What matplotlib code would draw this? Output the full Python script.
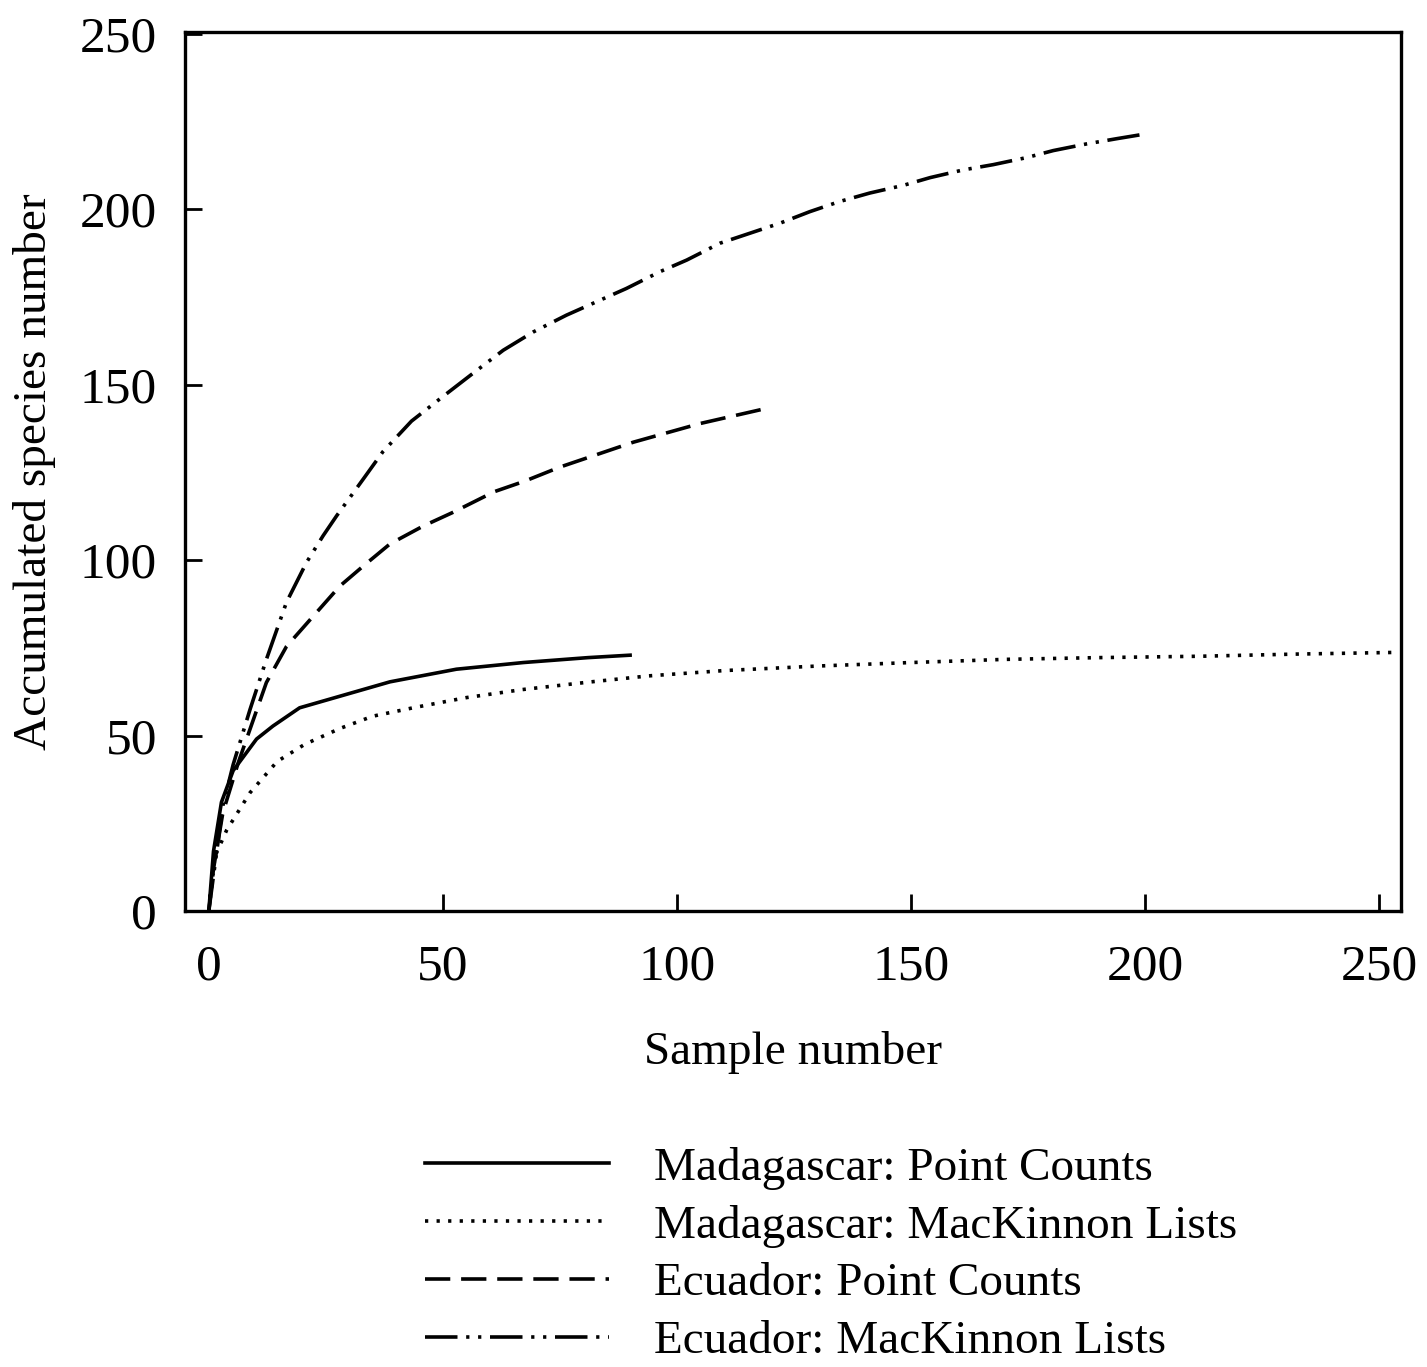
import matplotlib
matplotlib.use("Agg")
import matplotlib.pyplot as plt

# species accumulation curves
mad_pc_x = [0, 1, 2.7, 5.2, 10.2, 13.7, 19.4, 28, 38.7, 52.9, 67.2, 81, 90]
mad_pc_y = [0, 17, 31, 40, 49, 52.7, 57.9, 61.2, 65.3, 68.9, 70.8, 72.2, 72.9]

mad_mk_x = [0, 1.3, 3.8, 8.8, 14.6, 20.5, 28, 35, 44, 55, 67, 81, 94, 110, 130,
            150, 170, 190, 212, 232, 254]
mad_mk_y = [0, 15.5, 23, 33.7, 42.6, 47.5, 52, 55.5, 58, 60.8, 63.1, 65.2, 67, 68.5,
            69.8, 70.8, 71.7, 72.2, 72.6, 73.2, 73.7]

ec_pc_x = [0, 1, 3, 6.3, 12.3, 16.6, 22.3, 28, 33, 38.7, 45.8, 52, 61, 67.5, 75,
           90.7, 104.9, 120]
ec_pc_y = [0, 12, 28, 42.3, 65.1, 75.4, 84, 92.6, 98.3, 104.6, 109.7, 113.5, 119.5,
           122.5, 126.5, 133.6, 138.9, 143.5]

ec_mk_x = [0, 3, 5.2, 8.8, 12.3, 16.6, 20.9, 24.4, 27.3, 33, 37.2, 43.3, 50, 56.8,
           62.9, 69.3, 76.4, 82.8, 89.2, 96.4, 102.1, 109.2, 122, 128.4, 134.8, 141.2,
           148.4, 154.1, 161.2, 167.6, 174.7, 180.4, 187.5, 194, 199]
ec_mk_y = [0, 30, 41.7, 57.4, 71.7, 88, 99.4, 106.9, 112.6, 123.1, 130.9, 139.6, 146.6,
           153.6, 159.8, 165, 169.8, 173.6, 177.4, 182.2, 185.5, 190.3, 196, 199.3,
           202.2, 204.6, 206.8, 209, 211.2, 212.7, 214.7, 216.7, 218.6, 220.1, 221.2]

labels = ["Madagascar: Point Counts", "Madagascar: MacKinnon Lists",
          "Ecuador: Point Counts", "Ecuador: MacKinnon Lists"]

plt.rcParams["font.family"] = ["Liberation Serif", "DejaVu Serif"]

fig = plt.figure(figsize=(14.27, 13.67), dpi=100)
ax = fig.add_axes([0.1296, 0.3336, 0.8522, 0.643])

lw = 2.6
ax.plot(mad_pc_x, mad_pc_y, color="black", lw=lw, ls="-", label=labels[0])
ax.plot(mad_mk_x, mad_mk_y, color="black", lw=lw, ls=(0, (0.9, 2.3)), label=labels[1])
ax.plot(ec_pc_x, ec_pc_y, color="black", lw=lw, ls=(0, (7, 3)), label=labels[2])
ax.plot(ec_mk_x, ec_mk_y, color="black", lw=lw,
        ls=(0, (9, 2.4, 0.9, 2.4, 0.9, 2.4)), label=labels[3])

ax.set_xlim(-5.1, 254.7)
ax.set_ylim(0, 250.5)
ax.set_xticks([0, 50, 100, 150, 200, 250])
ax.set_yticks([0, 50, 100, 150, 200, 250])
for s in ax.spines.values():
    s.set_linewidth(2.4)
ax.tick_params(direction="in", length=12, width=2, labelsize=37)
ax.tick_params(axis="x", pad=24)
ax.tick_params(axis="y", pad=20)
ax.set_xlabel("Sample number", fontsize=34, labelpad=29)
ax.set_ylabel("Accumulated species number", fontsize=34, labelpad=17)

fig.legend(loc="upper left", bbox_to_anchor=(0.298, 0.161), frameon=False,
           fontsize=34, handlelength=3.9, handletextpad=0.95, labelspacing=0.31,
           borderpad=0, borderaxespad=0)

fig.savefig("out.png", dpi=100)
